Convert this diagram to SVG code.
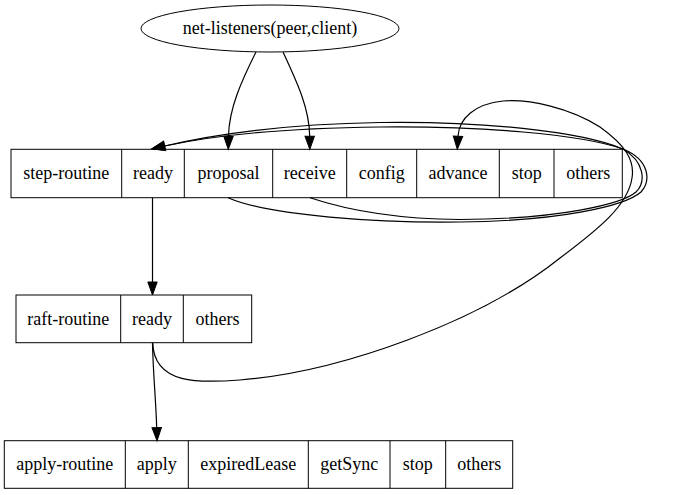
<svg xmlns="http://www.w3.org/2000/svg" width="675" height="495" viewBox="0 0 675 495">
<style>
  .box { fill: none; stroke: #000; stroke-width: 1; }
  .t { font-family: "Liberation Serif", "Times New Roman", "DejaVu Serif", serif; font-size: 18px; fill: #000; text-anchor: middle; }
  .e { fill: none; stroke: #000; stroke-width: 1.2; }
</style>
<defs>
  <marker id="ah" markerUnits="userSpaceOnUse" markerWidth="16" markerHeight="12" refX="0" refY="0" viewBox="0 -6 16 12" orient="auto" overflow="visible">
    <path d="M0,-4.7 L13,0 L0,4.7 z" fill="#000" stroke="#000" stroke-width="1"/>
  </marker>
</defs>
<rect width="675" height="495" fill="#fff"/>

<g id="net-listeners">
  <ellipse cx="270" cy="28.5" rx="129" ry="23.5" class="box"/>
  <text x="270" y="34.3" class="t">net-listeners(peer,client)</text>
</g>

<g id="step-routine">
  <rect x="11" y="149.3" width="611.3" height="48.4" class="box"/>
  <path d="M121.7,149.3V197.7 M184.3,149.3V197.7 M272.7,149.3V197.7 M346.7,149.3V197.7 M416.7,149.3V197.7 M499.3,149.3V197.7 M554,149.3V197.7" class="box"/>
  <text x="66.3" y="179" class="t">step-routine</text>
  <text x="153" y="179" class="t">ready</text>
  <text x="228.5" y="179" class="t">proposal</text>
  <text x="309.7" y="179" class="t">receive</text>
  <text x="381.7" y="179" class="t">config</text>
  <text x="458" y="179" class="t">advance</text>
  <text x="526.7" y="179" class="t">stop</text>
  <text x="588.2" y="179" class="t">others</text>
</g>

<g id="raft-routine">
  <rect x="16" y="295" width="235.7" height="47.7" class="box"/>
  <path d="M120.7,295V342.7 M183.3,295V342.7" class="box"/>
  <text x="68.3" y="324.5" class="t">raft-routine</text>
  <text x="152" y="324.5" class="t">ready</text>
  <text x="217.5" y="324.5" class="t">others</text>
</g>

<g id="apply-routine">
  <rect x="4.3" y="440.7" width="508.4" height="47.6" class="box"/>
  <path d="M125.3,440.7V488.3 M188.3,440.7V488.3 M308.3,440.7V488.3 M390,440.7V488.3 M445.7,440.7V488.3" class="box"/>
  <text x="64.8" y="470" class="t">apply-routine</text>
  <text x="156.8" y="470" class="t">apply</text>
  <text x="248.3" y="470" class="t">expiredLease</text>
  <text x="349.2" y="470" class="t">getSync</text>
  <text x="417.8" y="470" class="t">stop</text>
  <text x="479.2" y="470" class="t">others</text>
</g>

<g id="connectors">
  <path class="e" marker-end="url(#ah)" d="M256,52 C242,80 229,108 228.5,136.3"/>
  <path class="e" marker-end="url(#ah)" d="M283,52 C296,80 309.5,108 309.7,136.3"/>
  <path class="e" marker-end="url(#ah)" d="M152.5,197.7 L152.5,282"/>
  <path class="e" marker-end="url(#ah)" d="M152.5,342.7 C153,372 156,402 156.7,427.7"/>
  <path class="e" marker-end="url(#ah)" d="M152.7,342.7 C154,385 200,383 240,380 C340,372 480,322 560,258 C600,228 628,205 632,178 C635,160 625,145 600,127 C570,108 530,99 503,101 C475,104 459,118 458,136.3"/>
  <path class="e" marker-end="url(#ah)" d="M228,197.7 C270,216 380,223 460,222 C560,221 625,206 641,192 C651,181 650,160 623,149 C580,131 480,121 380,122.5 C290,124 220,133 164.6,146"/>
  <path class="e" marker-end="url(#ah)" d="M310,197.7 C350,211 400,219 460,219.5 C560,219 622,204 636,192 C646,182 645,162 623,149 C580,134 480,126 380,127 C290,128 220,134 164.6,146"/>
</g>
</svg>
